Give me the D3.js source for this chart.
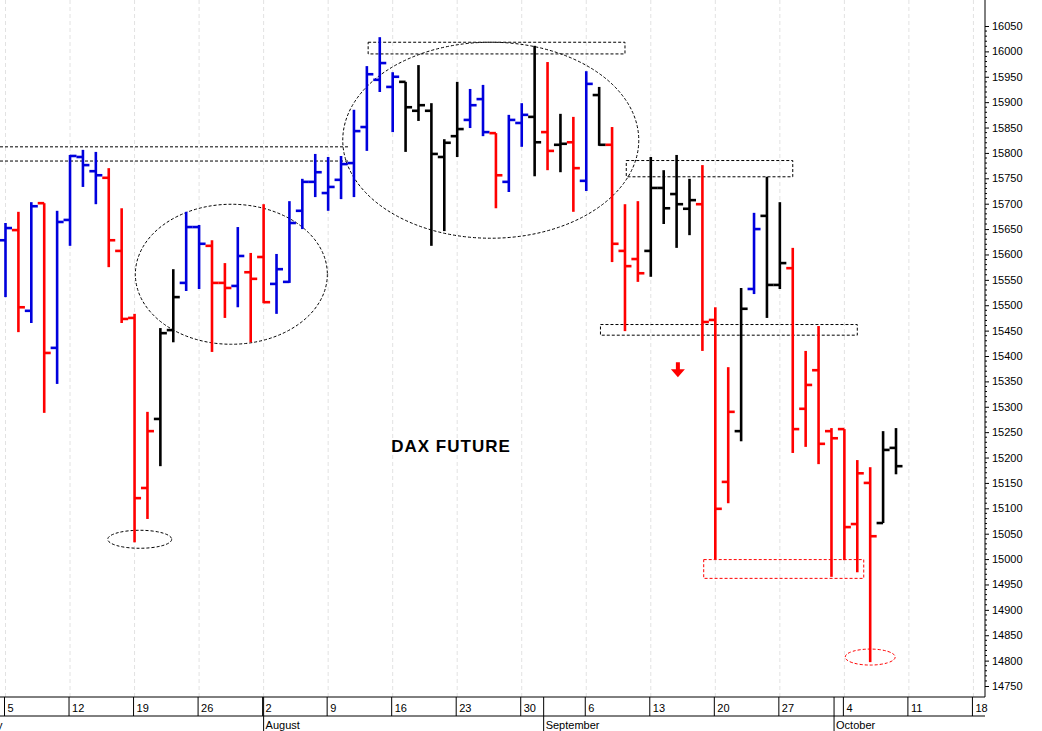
<!DOCTYPE html>
<html><head><meta charset="utf-8">
<script src="https://cdn.jsdelivr.net/npm/d3@7"></script>
<style>body{margin:0;background:#fff}text{font-family:"Liberation Sans",Arial,sans-serif}</style>
</head><body><svg id="c" width="1042" height="731"></svg>
<script>
// trading-day index 0 = Mon 5 July
const opens  = [15628,15648,15489,15701,15416,15668,15792,15764,15751,15607,15475,15140,15276,15451,15544,15654,15617,15544,15538,15565,15595,15542,15546,15686,15743,15721,15747,15780,15851,15944,15930,15940,15883,15883,15792,15833,15865,15906,15839,15743,15859,15871,15841,15816,15821,15745,15914,15816,15607,15591,15607,15731,15719,15690,15699,15471,15152,15252,15532,15676,15540,15573,15296,15372,15252,15256,15069,15150,15071,15219];
const highs  = [15662,15684,15703,15701,15686,15796,15806,15802,15770,15691,15483,15290,15455,15571,15684,15658,15628,15583,15654,15603,15699,15601,15705,15749,15798,15792,15794,15885,15971,16028,15959,15940,15973,15898,15827,15940,15926,15934,15839,15875,15898,16011,15979,15877,15871,15961,15930,15851,15699,15705,15792,15766,15796,15749,15776,15496,15378,15534,15682,15753,15703,15613,15410,15459,15258,15256,15195,15181,15252,15258];
const lows   = [15516,15447,15465,15288,15345,15617,15733,15699,15575,15465,15033,15079,15183,15427,15528,15532,15408,15475,15496,15427,15504,15483,15544,15650,15713,15686,15709,15713,15804,15920,15841,15802,15863,15617,15646,15792,15849,15833,15691,15723,15812,15754,15766,15762,15684,15725,15814,15585,15449,15546,15556,15660,15613,15638,15410,15000,15110,15232,15522,15475,15532,15209,15221,15187,14965,14998,14974,14797,15071,15167];
const closes = [15652,15496,15695,15406,15664,15794,15776,15756,15628,15473,15120,15252,15445,15516,15654,15621,15544,15534,15597,15552,15506,15571,15662,15743,15762,15733,15778,15843,15955,15977,15950,15890,15894,15798,15820,15847,15894,15841,15756,15865,15875,15821,15804,15818,15770,15936,15816,15621,15577,15563,15731,15691,15699,15707,15467,15099,15290,15493,15650,15540,15583,15256,15343,15227,15238,15063,15169,15045,15215,15183];
const trend  = "brbrbbbbrrrrkkbbrrbrrbbbbbbbbbbkkkkkbbrbbkrkrbkrrrkkkkrrrkbkkrrrrrrrkk";
const weekLabels = ["5","12","19","26","2","9","16","23","30","6","13","20","27","4","11","18"];
const months = [["July",-1.9],["August",20],["September",41.7],["October",64.2]];
const yTicks = d3.range(14750,16051,50);

const W=1042,H=731, plotR=985, plotB=697;
const svg=d3.select("#c");
const x=d3.scaleLinear().domain([0,69]).range([5.5,896]);
const y=d3.scaleLinear().domain([14750,16050]).range([686,26]);
const col={b:"#0000dd",r:"#ff0000",k:"#000000"};

svg.append("g").selectAll("line").data(weekLabels).join("line")
  .attr("x1",(d,i)=>x(i*5)).attr("x2",(d,i)=>x(i*5)).attr("y1",0).attr("y2",plotB)
  .attr("stroke","#e2e2e2").attr("stroke-dasharray","4,3");

const ann=svg.append("g").attr("fill","none").attr("stroke-dasharray","3,2").attr("stroke-width",1);
function rect(i0,i1,p0,p1,c){ann.append("rect").attr("x",x(i0)).attr("y",y(p0)).attr("width",x(i1)-x(i0)).attr("height",y(p1)-y(p0)).attr("stroke",c);}
function ell(ic,pc,rx,ry,c){ann.append("ellipse").attr("cx",x(ic)).attr("cy",y(pc)).attr("rx",rx).attr("ry",ry).attr("stroke",c);}
ann.append("line").attr("x1",0).attr("x2",x(26.6)).attr("y1",y(15812)).attr("y2",y(15812)).attr("stroke","#000");
ann.append("line").attr("x1",0).attr("x2",x(26.6)).attr("y1",y(15784)).attr("y2",y(15784)).attr("stroke","#000");
rect(28.1,48,16018,15995,"#000");
rect(48.1,61,15785,15753,"#000");
rect(46.1,66,15462,15441,"#000");
rect(54.1,66.5,14999,14962,"#ff0000");
ell(10.4,15039,32,9,"#000");
ell(17.5,15561,96,70,"#000");
ell(37.6,15825,148,98,"#000");
ell(67,14807,25,8,"#ff0000");

const bars=svg.append("g");
d3.range(opens.length).forEach(i=>{
  const c=col[trend[i]], cx=x(i);
  const g=bars.append("g").attr("stroke",c).attr("stroke-width",2.6);
  g.append("line").attr("x1",cx).attr("x2",cx).attr("y1",y(highs[i])).attr("y2",y(lows[i]));
  g.append("line").attr("x1",cx-6.5).attr("x2",cx).attr("y1",y(opens[i])).attr("y2",y(opens[i]));
  g.append("line").attr("x1",cx).attr("x2",cx+6.5).attr("y1",y(closes[i])).attr("y2",y(closes[i]));
});

const ax=x(52.1), ay=y(15370);
svg.append("path").attr("d",`M${ax-2},${ay-9}h4v7h5l-7,8l-7,-8h5z`).attr("fill","#ff0000");

svg.append("text").attr("x",451).attr("y",452).attr("text-anchor","middle")
  .attr("font-size",17).attr("font-weight","bold").attr("letter-spacing",1).text("DAX FUTURE");

svg.append("line").attr("x1",plotR).attr("x2",plotR).attr("y1",0).attr("y2",plotB).attr("stroke","#000");
const ya=svg.append("g").attr("transform",`translate(${plotR},0)`)
  .call(d3.axisRight(y).tickValues(yTicks).tickSize(4).tickFormat(d3.format("d")));
ya.select(".domain").remove();
ya.selectAll("text").attr("font-size",11).attr("x",7).attr("fill","#000").style("font-family","Liberation Sans Narrow, Arial Narrow, sans-serif");
svg.append("g").attr("transform",`translate(${plotR},0)`)
  .selectAll("line").data(d3.range(14750,16051,10).filter(v=>v%50)).join("line")
  .attr("x1",0).attr("x2",2).attr("y1",d=>y(d)).attr("y2",d=>y(d)).attr("stroke","#000");

svg.append("line").attr("x1",0).attr("x2",plotR).attr("y1",plotB).attr("y2",plotB).attr("stroke","#000");
svg.append("line").attr("x1",0).attr("x2",plotR).attr("y1",716).attr("y2",716).attr("stroke","#000");
const xa=svg.append("g");
weekLabels.forEach((l,i)=>{
  const px=x(i*5)-1;
  xa.append("line").attr("x1",px).attr("x2",px).attr("y1",plotB).attr("y2",716).attr("stroke","#000");
  xa.append("text").attr("x",px+3).attr("y",712).attr("font-size",11).text(l);
});
months.forEach(([m,i])=>{
  const px=x(i);
  svg.append("line").attr("x1",px).attr("x2",px).attr("y1",697).attr("y2",731).attr("stroke","#000");
  svg.append("text").attr("x",px+2).attr("y",729).attr("font-size",11).text(m);
});
</script></body></html>
